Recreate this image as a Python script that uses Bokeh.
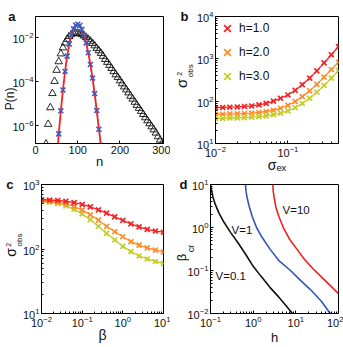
import math
from bokeh.plotting import figure
from bokeh.layouts import column, row
from bokeh.models import (Label, FixedTicker, Legend, LegendItem, Range1d, LinearAxis)
from bokeh.embed import file_html
from bokeh.resources import INLINE

FONT = "Liberation Sans"

# ---------------- data: panel a ----------------
a_tri_n = [25, 30, 35, 40, 45, 50, 55, 60, 65, 70, 75, 80, 85, 90, 95, 100,
           105, 110, 115, 120, 125, 130, 135, 140, 145, 150, 155, 160, 165, 170,
           175, 180, 185, 190, 195, 200, 205, 210, 215, 220, 225, 230, 235, 240,
           245, 250, 255, 260, 265, 270, 275, 280, 285, 290, 295, 300]
a_tri_p = [1.4e-7, 1.1e-6, 6.3e-6, 2.8e-5, 1.0e-4, 3.2e-4, 7.9e-4, 1.8e-3, 3.4e-3,
           5.6e-3, 8.3e-3, 1.12e-2, 1.38e-2, 1.55e-2, 1.62e-2, 1.58e-2,
           1.48e-2, 1.35e-2, 1.17e-2, 1.0e-2, 8.3e-3, 6.8e-3, 5.4e-3, 4.2e-3,
           3.2e-3, 2.5e-3, 1.9e-3, 1.4e-3, 1.0e-3, 7.4e-4, 5.4e-4, 3.9e-4,
           2.8e-4, 2.0e-4, 1.5e-4, 1.07e-4, 7.8e-5, 5.6e-5, 4.1e-5, 3.0e-5,
           2.1e-5, 1.55e-5, 1.12e-5, 8.1e-6, 5.9e-6, 4.3e-6, 3.1e-6, 2.2e-6,
           1.6e-6, 1.17e-6, 8.5e-7, 6.2e-7, 4.4e-7, 3.0e-7, 2.1e-7, 1.5e-7]
a_x_n = [55, 60, 65, 70, 75, 80, 85, 90, 95, 100, 105, 110, 115, 120, 125,
         130, 135, 140, 145, 150, 155]
a_x_p = [4.0e-7, 4.5e-6, 4.0e-5, 2.8e-4, 1.4e-3, 5.0e-3, 1.32e-2, 2.5e-2,
         3.6e-2, 4.0e-2, 3.5e-2, 2.3e-2, 1.26e-2, 5.6e-3, 2.0e-3, 5.8e-4,
         1.4e-4, 2.75e-5, 4.6e-6, 6.5e-7, 1.2e-7]
a_red_n = [50, 55, 60, 65, 70, 75, 80, 85, 90, 95, 100, 105, 110, 115, 120,
           125, 130, 135, 140, 145, 150, 155, 160]
a_red_p = [1.2e-8, 4.0e-7, 4.5e-6, 4.0e-5, 2.8e-4, 1.4e-3, 5.0e-3, 1.32e-2,
           2.5e-2, 3.6e-2, 4.0e-2, 3.5e-2, 2.3e-2, 1.26e-2, 5.6e-3, 2.0e-3,
           5.8e-4, 1.4e-4, 2.75e-5, 4.6e-6, 6.5e-7, 1.2e-7, 1.0e-8]
a_cyan_n = [130, 135, 140, 145, 150, 155, 160]
a_cyan_p = [6.0e-4, 1.5e-4, 3.0e-5, 5.2e-6, 7.8e-7, 1.1e-7, 1.3e-8]

# ---------------- data: panel b ----------------
b_sigma = [0.01, 0.0126, 0.0158, 0.02, 0.0251, 0.0316, 0.0398, 0.0501, 0.0631,
           0.0794, 0.1, 0.126, 0.158, 0.2, 0.251, 0.316, 0.398, 0.5]
b_h1 = [70, 71, 72, 73, 75, 77, 82, 89, 100, 117, 140, 180, 245, 350, 520, 800, 1250, 1950]
b_h2 = [49, 49, 50, 50, 51, 52, 54, 57, 61, 68, 80, 98, 128, 175, 250, 370, 560, 830]
b_h3 = [39, 39, 40, 40, 41, 42, 43, 45, 48, 52, 59, 70, 88, 117, 162, 235, 350, 525]
b_labels = ["h=1.0", "h=2.0", "h=3.0"]

# ---------------- data: panel c ----------------
c_beta = [0.01, 0.0158, 0.0251, 0.0398, 0.0631, 0.1, 0.158, 0.251, 0.398, 0.631,
          1.0, 1.58, 2.51, 3.98, 6.31, 10.0]
c_h1 = [580, 575, 565, 550, 525, 490, 450, 405, 360, 315, 278, 245, 220, 202, 190, 182]
c_h2 = [560, 550, 530, 500, 455, 400, 340, 280, 225, 185, 155, 130, 115, 104, 96, 90]
c_h3 = [545, 530, 505, 465, 410, 350, 285, 225, 175, 138, 110, 91, 78, 70, 64, 60]

# ---------------- data: panel d ----------------
d_h_v01 = [0.1, 0.105, 0.115, 0.13, 0.16, 0.2, 0.3, 0.45, 0.7, 1.0, 1.5, 2.5, 4.0, 6.0, 8.3]
d_b_v01 = [10, 7.5, 5.0, 3.4, 2.1, 1.4, 0.75, 0.43, 0.22, 0.125, 0.075, 0.04, 0.024, 0.015, 0.01]
d_h_v1 = [0.66, 0.68, 0.72, 0.8, 0.95, 1.2, 1.6, 2.5, 4.0, 7.5, 13, 22, 40, 64]
d_b_v1 = [10, 7, 5, 3.2, 1.8, 1.0, 0.6, 0.31, 0.17, 0.1, 0.058, 0.036, 0.019, 0.01]
d_h_v10 = [2.9, 2.95, 3.1, 3.4, 4.0, 5.2, 7.0, 10.7, 16, 26, 45, 70, 100]
d_b_v10 = [10, 7, 5, 3, 1.8, 0.95, 0.55, 0.31, 0.18, 0.107, 0.063, 0.041, 0.029]
d_names = ["V=0.1", "V=1", "V=10"]

RED = "#f42222"
ORANGE = "#ff8c28"
YELLOW = "#c4cc28"
BLUE_X = "#3d5cc4"
D_BLACK = "#111111"
D_BLUE = "#3355b5"
D_RED = "#f21f1f"
TXT = "#111111"

BOX_EM, DESC_EM = 1.2, 0.24   # text box height and its part below the baseline (em)


def minors(e0, e1):
    return [m * 10.0 ** e for e in range(e0, e1) for m in range(2, 10)]


def conv(pix, a, b, v0, v1, log):
    t = (pix - a) / (b - a)
    if log:
        return 10 ** (math.log10(v0) + t * (math.log10(v1) - math.log10(v0)))
    return v0 + t * (v1 - v0)


def make_fig(w, h, g, top, bottom, xlabel, xlabel_size, xlabel_standoff):
    p = figure(width=w, height=h, output_backend="svg", toolbar_location=None,
               x_range=Range1d(g["x0"], g["x1"]), y_range=Range1d(g["y0"], g["y1"]),
               x_axis_type="log" if g["xlog"] else "linear",
               y_axis_type="log" if g["ylog"] else "linear",
               min_border_left=g["fl"] - g["ox"], min_border_right=g["ox"] + w - g["fr"],
               min_border_top=top, min_border_bottom=bottom)
    p.grid.visible = False
    p.outline_line_color = "black"
    p.outline_line_width = 1
    p.outline_line_alpha = 1
    p.background_fill_color = "white"
    p.border_fill_color = "white"
    for ax in p.axis:
        ax.major_tick_in = 3
        ax.major_tick_out = 0
        ax.minor_tick_in = 2
        ax.minor_tick_out = 0
        ax.axis_line_color = "black"
        ax.major_tick_line_color = "black"
        ax.minor_tick_line_color = "black"
        ax.major_label_text_font = FONT
        ax.major_label_text_font_size = "11px"
        ax.major_label_text_color = TXT
        ax.major_label_standoff = 2
    xa = p.xaxis[0]
    xa.axis_label = xlabel
    xa.axis_label_text_font = FONT
    xa.axis_label_text_font_size = xlabel_size
    xa.axis_label_text_font_style = "normal"
    xa.axis_label_text_color = TXT
    xa.axis_label_standoff = xlabel_standoff
    return p


def text_axis(pos, text, standoff, size, orient, bold, log):
    bounds = (1e-30, 1e30) if log else (-1e6, 1e6)
    return LinearAxis(ticker=FixedTicker(ticks=[pos], minor_ticks=[]),
                      major_label_overrides={pos: text},
                      major_label_orientation=orient,
                      major_label_standoff=standoff,
                      bounds=bounds, axis_line_color=None,
                      major_tick_line_color=None, minor_tick_line_color=None,
                      major_tick_in=0, major_tick_out=0, minor_tick_in=0, minor_tick_out=0,
                      major_label_text_font=FONT, major_label_text_font_size=f"{size}px",
                      major_label_text_font_style="bold" if bold else "normal",
                      major_label_text_color=TXT)


def vpiece(text, size, baseline_x, yc):
    r = baseline_x + DESC_EM * size
    ext = BOX_EM * size
    return dict(text=text, size=size, orient="vertical", R=r, ext=ext, L=r - ext,
                yc=yc, bold=False)


def letter(text, size, left, width_em):
    # sits level with the top edge of the frame
    w = width_em * size
    return dict(text=text, size=size, orient="horizontal", R=left + w, ext=w, L=left,
                yc=None, bold=True)


def add_left(p, g, ext_axis, pieces):
    edge = g["fl"] - ext_axis
    for q in sorted(pieces, key=lambda q: -q["L"]):
        pos = g["y1"] if q["yc"] is None else conv(q["yc"], g["fb"], g["ft"], g["y0"], g["y1"], g["ylog"])
        s = int(round(edge - q["R"]))
        p.add_layout(text_axis(pos, q["text"], s, q["size"], q["orient"], q["bold"], g["ylog"]), "left")
        edge = edge - (s + q["ext"])


# geometry: page pixels (page origin at 0,0)
GA = dict(ox=0, fl=35, fr=163, ft=16, fb=147, x0=0, x1=303, y0=1.45e-7, y1=0.09, xlog=False, ylog=True)
GB = dict(ox=170, fl=210, fr=338, ft=16, fb=147, x0=0.01, x1=0.5, y0=10, y1=1e4, xlog=True, ylog=True)
GC = dict(ox=0, fl=35, fr=163, ft=184, fb=319, x0=0.01, x1=10, y0=10, y1=1000, xlog=True, ylog=True)
GD = dict(ox=170, fl=210, fr=338, ft=184, fb=313, x0=0.1, x1=100, y0=0.01, y1=10, xlog=True, ylog=True)
# effective band widths of the y axes (tick labels), measured from earlier renders
EXT_A = 31.0
EXT_B = 21.0
EXT_C = 21.0
EXT_D = 34.0

# ---------------- panel a ----------------
pa = make_fig(170, 175, GA, 16, 28, "n", "13px", -3)
pa.xaxis.ticker = FixedTicker(ticks=[0, 100, 200, 300], minor_ticks=[])
pa.yaxis.ticker = FixedTicker(ticks=[1e-6, 1e-4, 1e-2], minor_ticks=[])
pa.scatter(a_tri_n, a_tri_p, marker="triangle", size=7.5, fill_alpha=0,
           line_color="#111111", line_width=0.9)
pa.line(a_cyan_n, a_cyan_p, line_color="#66d6e8", line_width=1.6, line_dash="3 2")
pa.line(a_red_n, a_red_p, line_color=RED, line_width=1.8)
pa.scatter(a_x_n, a_x_p, marker="x", size=7, line_color=BLUE_X, line_width=1.6)
add_left(pa, GA, EXT_A, [letter("a", 13, 3, 0.556), vpiece("P(n)", 12, 11.5, 101)])

# ---------------- panel b ----------------
pb = make_fig(173, 175, GB, 16, 28, "σₑₓ", "14px", -3)
pb.xaxis.ticker = FixedTicker(ticks=[0.01, 0.1], minor_ticks=minors(-2, 0))
pb.yaxis.ticker = FixedTicker(ticks=[10, 100, 1000, 10000], minor_ticks=minors(1, 4))
rb = []
for ys, col in zip([b_h1, b_h2, b_h3], [RED, ORANGE, YELLOW]):
    pb.line(b_sigma, ys, line_color=col, line_width=1.3)
    rb.append(pb.scatter(b_sigma, ys, marker="x", size=7, line_color=col, line_width=1.7))
leg = Legend(items=[LegendItem(label=l, renderers=[r]) for l, r in zip(b_labels, rb)],
             location="top_left", glyph_width=24, glyph_height=24, label_height=13,
             spacing=-11, padding=0, margin=0, label_standoff=-7,
             border_line_alpha=0, background_fill_alpha=0,
             label_text_font=FONT, label_text_font_size="12px", label_text_color=TXT)
pb.add_layout(leg)
add_left(pb, GB, EXT_B, [vpiece("σ", 15, 187, 85), vpiece("2", 7, 181.5, 75),
                         vpiece("obs", 8, 189.5, 72), letter("b", 13, 178, 0.611)])

# ---------------- panel c ----------------
pc = make_fig(170, 172, GC, 9, 28, "β", "14px", -3)
pc.xaxis.ticker = FixedTicker(ticks=[0.01, 0.1, 1, 10], minor_ticks=minors(-2, 1))
pc.yaxis.ticker = FixedTicker(ticks=[10, 100, 1000], minor_ticks=minors(1, 3))
for ys, col in zip([c_h3, c_h2, c_h1], [YELLOW, ORANGE, RED]):
    pc.line(c_beta, ys, line_color=col, line_width=1.3)
    pc.scatter(c_beta, ys, marker="x", size=7, line_color=col, line_width=1.7)
add_left(pc, GC, EXT_C, [vpiece("σ", 14, 15, 255), vpiece("2", 7, 9.5, 247),
                         vpiece("obs", 8, 17.5, 242), letter("c", 13, 3, 0.556)])

# ---------------- panel d ----------------
pd = make_fig(173, 172, GD, 9, 34, "h", "13px", 0)
pd.xaxis.ticker = FixedTicker(ticks=[0.1, 1, 10, 100], minor_ticks=minors(-1, 2))
pd.yaxis.ticker = FixedTicker(ticks=[0.01, 0.1, 1, 10], minor_ticks=minors(-2, 1))
for hs, bs, col in zip([d_h_v01, d_h_v1, d_h_v10], [d_b_v01, d_b_v1, d_b_v10],
                       [D_BLACK, D_BLUE, D_RED]):
    pd.line(hs, bs, line_color=col, line_width=1.6)
for name, px, py in zip(d_names, [215, 231, 282], [275.5, 229.5, 209.5]):
    pd.add_layout(Label(x=px - GD["fl"], y=GD["fb"] - py, x_units="screen", y_units="screen",
                        text=name, text_font=FONT, text_font_size="11.5px",
                        text_align="left", text_baseline="alphabetic", text_color=TXT))
add_left(pd, GD, EXT_D, [vpiece("β", 13, 182.5, 257), vpiece("cr", 9, 185, 248),
                         letter("d", 13, 173, 0.611)])

layout = column(row(pa, pb), row(pc, pd))
open("out.html", "w").write(file_html(layout, INLINE))
